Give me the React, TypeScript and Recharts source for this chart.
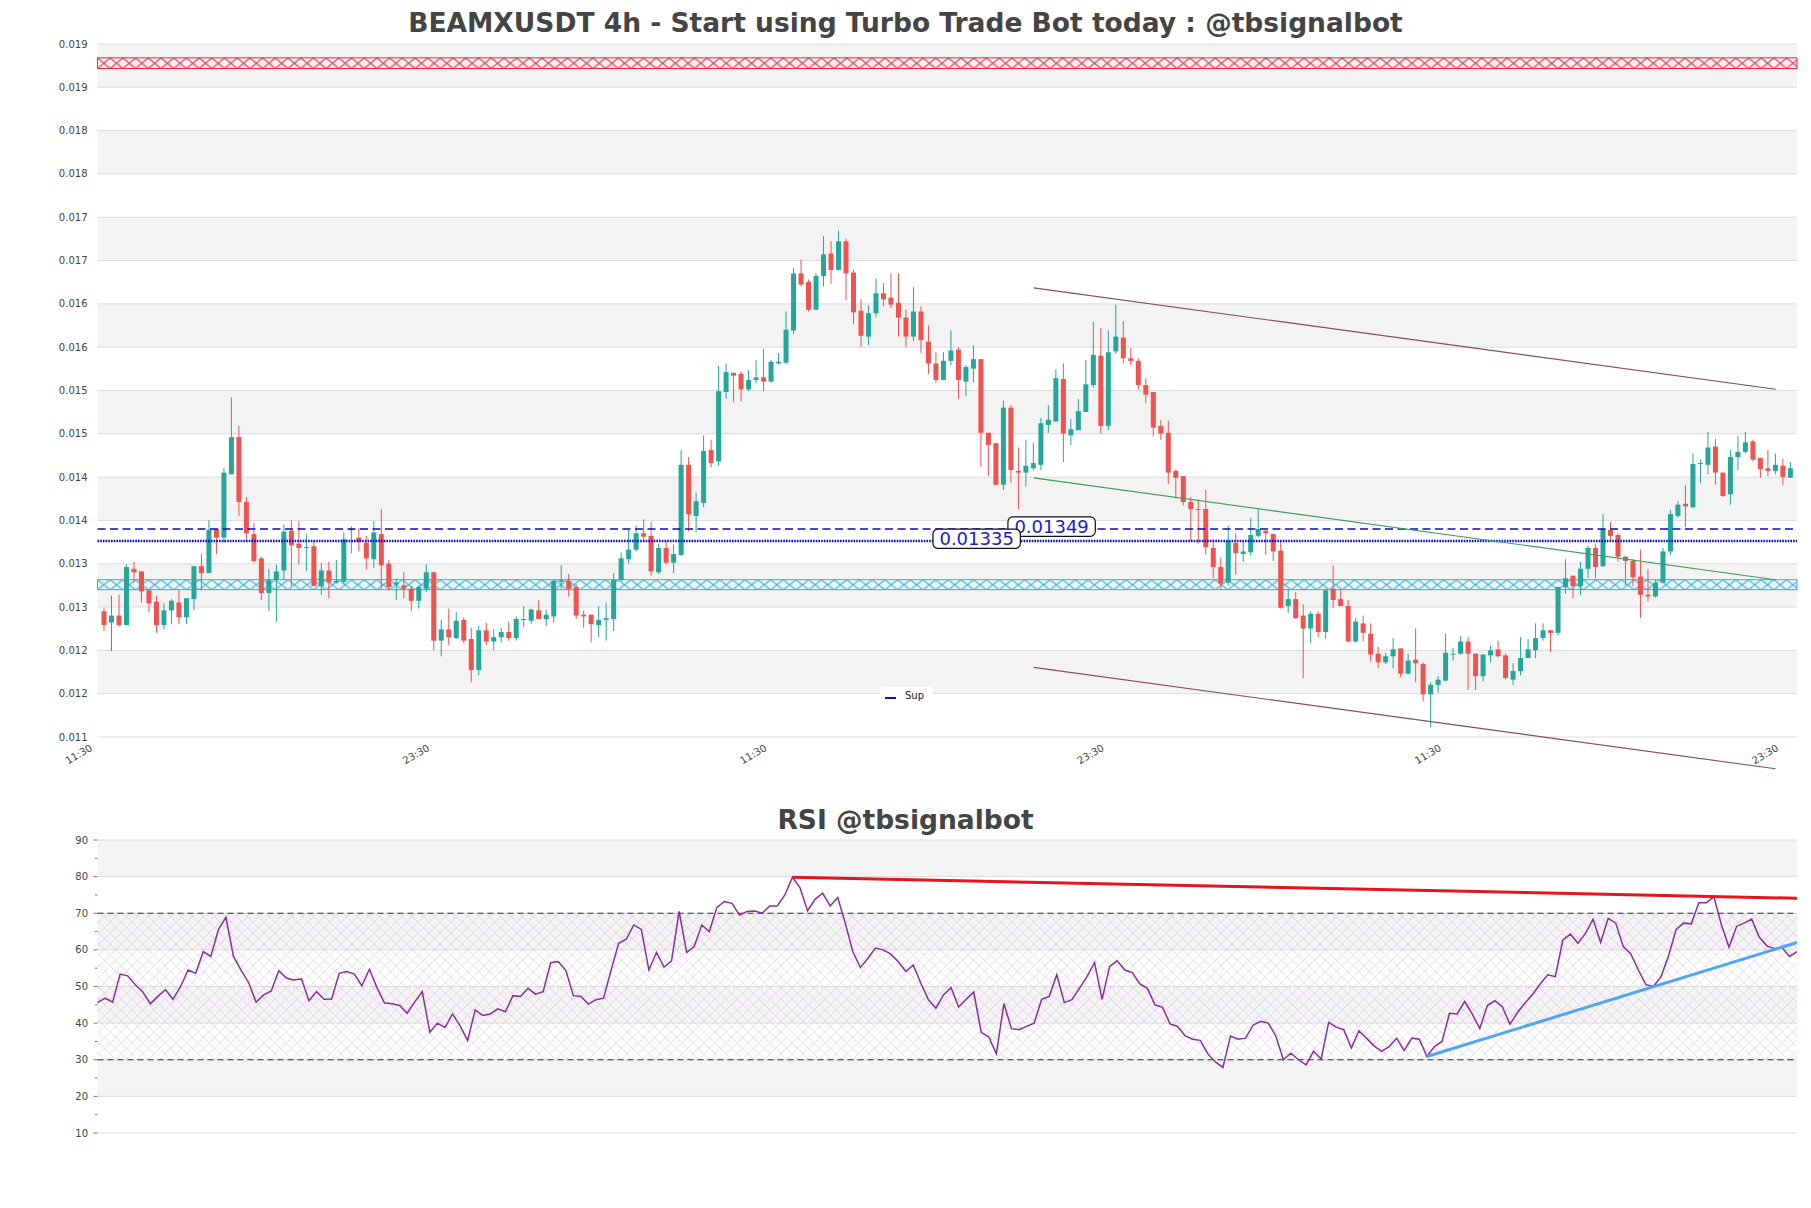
import React from 'react'
import {
  ComposedChart,
  LineChart,
  Line,
  Bar,
  XAxis,
  YAxis,
  CartesianGrid,
  ReferenceLine,
  ReferenceArea,
  ReferenceDot,
} from 'recharts'

// 4h candles
const opens = [
  0.01254, 0.01241, 0.01249, 0.01238, 0.01303, 0.013, 0.01278, 0.01265, 0.01238, 0.01255,
  0.01264, 0.01247, 0.01268, 0.01306, 0.01298, 0.01349, 0.01339, 0.01412, 0.01455, 0.0138,
  0.01343, 0.01315, 0.01275, 0.0129, 0.01301, 0.01347, 0.01332, 0.01327, 0.01329, 0.01283,
  0.01301, 0.01287, 0.01288, 0.01348, 0.01339, 0.01333, 0.01314, 0.01343, 0.01309, 0.01285,
  0.01284, 0.0128, 0.01266, 0.0128, 0.01299, 0.0122, 0.01233, 0.01223, 0.01244, 0.01222,
  0.01186, 0.01232, 0.01219, 0.01224, 0.0123, 0.01223, 0.01244, 0.01243, 0.01255, 0.01245,
  0.01248, 0.01288, 0.01289, 0.01282, 0.0125, 0.0125, 0.01238, 0.01244, 0.01245, 0.0129,
  0.01314, 0.01325, 0.01344, 0.01341, 0.01299, 0.01327, 0.0131, 0.01319, 0.01423, 0.01364,
  0.01379, 0.0144, 0.01427, 0.01507, 0.01529, 0.01528, 0.0151, 0.01521, 0.01524, 0.01519,
  0.0154, 0.01541, 0.01578, 0.01644, 0.01634, 0.01602, 0.01641, 0.01667, 0.01648, 0.01681,
  0.01645, 0.01601, 0.01571, 0.01598, 0.01621, 0.01616, 0.0161, 0.01593, 0.01571, 0.016,
  0.01565, 0.0154, 0.01521, 0.01543, 0.01556, 0.01519, 0.01534, 0.01545, 0.0146, 0.01448,
  0.014, 0.01489, 0.01416, 0.01414, 0.01419, 0.01423, 0.01469, 0.01473, 0.01522, 0.01457,
  0.01463, 0.01484, 0.01515, 0.01549, 0.01468, 0.01554, 0.0157, 0.01546, 0.01543, 0.01515,
  0.01507, 0.01468, 0.0146, 0.01416, 0.0141, 0.0138, 0.01372, 0.01372, 0.01327, 0.01305,
  0.01287, 0.01333, 0.0132, 0.01322, 0.01341, 0.01347, 0.01343, 0.01324, 0.0126, 0.01268,
  0.01249, 0.01234, 0.01251, 0.0123, 0.0128, 0.01268, 0.0126, 0.01219, 0.0124, 0.01228,
  0.01205, 0.01195, 0.01202, 0.01211, 0.01182, 0.01198, 0.01193, 0.01158, 0.01169, 0.01174,
  0.01204, 0.01205, 0.01219, 0.01205, 0.01179, 0.01203, 0.0121, 0.01203, 0.01175, 0.01185,
  0.012, 0.01209, 0.01223, 0.01232, 0.01229, 0.01282, 0.01295, 0.01283, 0.01303, 0.01327,
  0.01306, 0.01348, 0.01342, 0.01317, 0.01312, 0.01294, 0.01273, 0.01271, 0.01287, 0.01323,
  0.01364, 0.01378, 0.01374, 0.01424, 0.01423, 0.01444, 0.01414, 0.01389, 0.01432, 0.01438,
  0.0145, 0.01431, 0.01419, 0.01416, 0.01422, 0.01408,
]

const highs = [
  0.01258, 0.01272, 0.01273, 0.01308, 0.01311, 0.013, 0.01278, 0.01272, 0.01263, 0.01268,
  0.01279, 0.01269, 0.01306, 0.0132, 0.01359, 0.01349, 0.01419, 0.01501, 0.01468, 0.01386,
  0.01356, 0.01317, 0.01303, 0.01308, 0.01354, 0.01359, 0.01358, 0.01343, 0.01335, 0.0131,
  0.01311, 0.01313, 0.01345, 0.01352, 0.0135, 0.01341, 0.01358, 0.01372, 0.01313, 0.01292,
  0.01299, 0.01283, 0.01284, 0.01308, 0.01299, 0.01244, 0.01257, 0.01253, 0.01247, 0.01235,
  0.01237, 0.01241, 0.01233, 0.01235, 0.01242, 0.01248, 0.0126, 0.01257, 0.01267, 0.01256,
  0.01289, 0.01307, 0.01297, 0.01285, 0.01255, 0.0125, 0.0126, 0.01264, 0.01298, 0.01322,
  0.01348, 0.01353, 0.0136, 0.01357, 0.01332, 0.01335, 0.01331, 0.0144, 0.01432, 0.01391,
  0.01457, 0.01452, 0.01537, 0.0154, 0.0153, 0.01531, 0.01532, 0.01544, 0.01557, 0.01544,
  0.01552, 0.016, 0.0165, 0.0166, 0.01637, 0.01644, 0.01687, 0.01681, 0.01693, 0.01684,
  0.01648, 0.01614, 0.01607, 0.01638, 0.01633, 0.01644, 0.01644, 0.01602, 0.01628, 0.01606,
  0.01584, 0.01553, 0.01553, 0.01578, 0.01559, 0.01538, 0.01561, 0.01545, 0.0146, 0.01448,
  0.01497, 0.01492, 0.01443, 0.01452, 0.01448, 0.01477, 0.01492, 0.01533, 0.0154, 0.01476,
  0.01499, 0.01544, 0.01588, 0.01581, 0.01578, 0.01608, 0.01589, 0.01558, 0.01546, 0.01523,
  0.01507, 0.01475, 0.01474, 0.01418, 0.0141, 0.01386, 0.01383, 0.01394, 0.01337, 0.01316,
  0.01353, 0.01344, 0.01334, 0.01362, 0.01372, 0.01347, 0.01343, 0.01334, 0.0128, 0.01276,
  0.01262, 0.01254, 0.01254, 0.0128, 0.01307, 0.01279, 0.01267, 0.01246, 0.01249, 0.0124,
  0.01213, 0.01206, 0.01223, 0.01211, 0.01205, 0.01234, 0.01195, 0.01172, 0.01179, 0.01228,
  0.01212, 0.01225, 0.01224, 0.01205, 0.01204, 0.01214, 0.0122, 0.01205, 0.01194, 0.01224,
  0.01222, 0.0124, 0.0124, 0.01232, 0.01282, 0.01314, 0.01295, 0.01311, 0.0133, 0.01331,
  0.01366, 0.01357, 0.01344, 0.01318, 0.01314, 0.01325, 0.01303, 0.0129, 0.01327, 0.01371,
  0.01381, 0.014, 0.01436, 0.01429, 0.01461, 0.01453, 0.01414, 0.0144, 0.01456, 0.01461,
  0.01452, 0.01431, 0.0144, 0.01436, 0.0143, 0.01426,
]

const lows = [
  0.01231, 0.01208, 0.01236, 0.01238, 0.01287, 0.01264, 0.01253, 0.01229, 0.01233, 0.01239,
  0.01239, 0.01239, 0.01255, 0.01278, 0.01298, 0.0132, 0.01333, 0.01412, 0.01364, 0.01335,
  0.0131, 0.01267, 0.01254, 0.01242, 0.0129, 0.01283, 0.01308, 0.013, 0.01283, 0.01273,
  0.01269, 0.01286, 0.01286, 0.01321, 0.01323, 0.01302, 0.01304, 0.01279, 0.01278, 0.01267,
  0.01269, 0.01254, 0.01257, 0.01276, 0.01209, 0.01202, 0.01215, 0.01222, 0.01217, 0.01172,
  0.0118, 0.01215, 0.01209, 0.01218, 0.0122, 0.0122, 0.01236, 0.01239, 0.01245, 0.01237,
  0.01241, 0.0128, 0.01271, 0.01245, 0.01235, 0.01218, 0.01224, 0.0122, 0.01231, 0.01289,
  0.01309, 0.01323, 0.01335, 0.01295, 0.01297, 0.01308, 0.01298, 0.01318, 0.01346, 0.01345,
  0.01374, 0.0142, 0.01422, 0.01499, 0.01495, 0.01496, 0.01508, 0.01517, 0.01508, 0.01518,
  0.01539, 0.01539, 0.01574, 0.01629, 0.016, 0.01602, 0.01629, 0.01632, 0.01648, 0.01613,
  0.01585, 0.01559, 0.01561, 0.01593, 0.01606, 0.01604, 0.01571, 0.01559, 0.01566, 0.01552,
  0.01528, 0.01518, 0.01521, 0.01538, 0.01499, 0.01502, 0.01518, 0.01421, 0.0141, 0.01399,
  0.01394, 0.01402, 0.01372, 0.01398, 0.01417, 0.01417, 0.0146, 0.01473, 0.01426, 0.01446,
  0.01463, 0.01484, 0.01512, 0.01459, 0.01463, 0.01551, 0.0154, 0.01538, 0.0151, 0.01494,
  0.01456, 0.01452, 0.01401, 0.01384, 0.01376, 0.01335, 0.01332, 0.01319, 0.01292, 0.01279,
  0.01284, 0.01296, 0.01311, 0.01318, 0.01339, 0.01319, 0.01312, 0.01257, 0.01252, 0.01245,
  0.01177, 0.01217, 0.01224, 0.01222, 0.01258, 0.0126, 0.01218, 0.01218, 0.01219, 0.01196,
  0.01188, 0.01193, 0.01188, 0.01178, 0.01181, 0.01172, 0.0115, 0.0112, 0.0116, 0.01173,
  0.01197, 0.01204, 0.01163, 0.01163, 0.01173, 0.01195, 0.01201, 0.01175, 0.01169, 0.0118,
  0.012, 0.012, 0.0122, 0.01207, 0.01226, 0.01274, 0.01269, 0.01273, 0.01292, 0.01292,
  0.01305, 0.01334, 0.01311, 0.01284, 0.01283, 0.01246, 0.01265, 0.0127, 0.01287, 0.01319,
  0.01362, 0.01351, 0.01373, 0.01402, 0.01412, 0.014, 0.01386, 0.01377, 0.01417, 0.01436,
  0.01427, 0.01408, 0.0141, 0.01412, 0.014, 0.01408,
]

const closes = [
  0.01238, 0.01249, 0.01238, 0.01305, 0.01299, 0.01277, 0.01263, 0.01238, 0.01255, 0.01266,
  0.01247, 0.01269, 0.01306, 0.01298, 0.01348, 0.01339, 0.01414, 0.01455, 0.0138, 0.01344,
  0.01312, 0.01275, 0.0129, 0.013, 0.01346, 0.0133, 0.01327, 0.01328, 0.01283, 0.01301,
  0.01287, 0.01289, 0.01337, 0.01349, 0.01334, 0.01315, 0.01345, 0.01307, 0.01282, 0.01287,
  0.0128, 0.01266, 0.01282, 0.01299, 0.0122, 0.01233, 0.01224, 0.01243, 0.0122, 0.01186,
  0.01232, 0.01219, 0.01224, 0.0123, 0.01223, 0.01245, 0.01245, 0.01256, 0.01245, 0.0125,
  0.01289, 0.0129, 0.0128, 0.01249, 0.01248, 0.01239, 0.01244, 0.01246, 0.0129, 0.01315,
  0.01325, 0.01344, 0.0134, 0.013, 0.01327, 0.0131, 0.0132, 0.01423, 0.01366, 0.01381,
  0.01439, 0.01425, 0.01508, 0.0153, 0.01526, 0.0151, 0.01521, 0.01524, 0.01519, 0.01542,
  0.01542, 0.01579, 0.01644, 0.01631, 0.01602, 0.01641, 0.01666, 0.01648, 0.01681, 0.01644,
  0.01599, 0.01572, 0.01598, 0.01621, 0.01614, 0.01608, 0.01593, 0.01571, 0.016, 0.01567,
  0.0154, 0.01521, 0.01543, 0.01555, 0.01521, 0.01536, 0.01545, 0.0146, 0.01446, 0.014,
  0.01489, 0.01417, 0.01414, 0.01422, 0.01425, 0.01471, 0.01475, 0.01523, 0.01459, 0.01464,
  0.01485, 0.01516, 0.0155, 0.01468, 0.01553, 0.01571, 0.01546, 0.01543, 0.01515, 0.01504,
  0.01466, 0.01459, 0.01414, 0.01408, 0.0138, 0.01372, 0.01371, 0.01328, 0.01305, 0.01286,
  0.01335, 0.01321, 0.01323, 0.01342, 0.01349, 0.01344, 0.01323, 0.01258, 0.01268, 0.01246,
  0.01234, 0.01251, 0.0123, 0.01278, 0.01267, 0.0126, 0.01219, 0.01242, 0.01229, 0.01204,
  0.01195, 0.01202, 0.0121, 0.01182, 0.01197, 0.01194, 0.01158, 0.01169, 0.01175, 0.01206,
  0.01205, 0.01219, 0.01205, 0.01179, 0.01204, 0.01209, 0.01202, 0.01177, 0.01185, 0.012,
  0.0121, 0.01223, 0.01232, 0.01229, 0.01282, 0.01292, 0.01283, 0.01303, 0.01327, 0.01305,
  0.01349, 0.01341, 0.01317, 0.01312, 0.01293, 0.01273, 0.01271, 0.01287, 0.01323, 0.01366,
  0.01377, 0.01375, 0.01424, 0.01425, 0.01443, 0.01414, 0.01387, 0.01432, 0.01438, 0.01449,
  0.01429, 0.01418, 0.01416, 0.01423, 0.01409, 0.01419,
]

const rsiValues = [
  45.6, 46.8, 45.7, 53.4, 52.9, 50.5, 48.5, 45.3, 47.3, 49.1,
  46.5, 50.0, 54.5, 53.6, 59.5, 58.2, 65.5, 68.9, 58.2, 54.5,
  51.1, 45.7, 47.7, 48.8, 54.3, 52.3, 51.8, 52.1, 46.1, 48.6,
  46.5, 46.6, 53.6, 54.1, 53.4, 50.2, 54.7, 49.7, 45.5, 45.3,
  44.8, 42.7, 45.8, 48.6, 37.5, 40.0, 38.8, 42.5, 39.3, 35.2,
  43.6, 42.1, 42.5, 43.9, 43.1, 47.5, 47.3, 49.5, 47.9, 48.6,
  56.5, 56.8, 54.4, 47.5, 47.3, 45.2, 46.4, 46.8, 54.5, 61.8,
  62.9, 66.8, 65.6, 54.5, 59.3, 55.3, 57.0, 70.5, 59.3, 60.9,
  66.8, 65.0, 71.6, 73.2, 72.7, 69.5, 70.5, 70.6, 70.0, 72.0,
  72.0, 75.0, 79.8, 77.0, 70.7, 73.8, 75.5, 72.0, 74.3, 67.3,
  59.5, 55.2, 57.7, 60.5, 60.0, 58.9, 56.8, 54.1, 55.9, 50.9,
  46.4, 44.1, 47.7, 49.7, 44.4, 46.5, 48.5, 37.5, 36.2, 31.6,
  45.3, 38.5, 38.2, 39.1, 40.0, 46.5, 47.3, 53.2, 45.6, 46.4,
  49.5, 52.7, 56.5, 46.5, 55.5, 57.0, 54.5, 53.8, 50.7, 49.5,
  45.0, 44.3, 39.8, 39.1, 36.5, 35.6, 35.3, 31.6, 29.4, 27.9,
  36.5, 35.6, 35.9, 39.5, 40.5, 40.0, 36.5, 30.0, 31.8, 30.0,
  28.6, 32.3, 30.2, 40.2, 38.9, 38.2, 33.2, 37.9, 35.9, 33.8,
  32.3, 33.6, 35.9, 32.5, 35.9, 35.6, 30.9, 33.6, 35.0, 42.7,
  42.5, 45.9, 42.5, 38.5, 44.8, 46.1, 44.4, 39.7, 42.9, 45.5,
  47.9, 50.7, 53.2, 52.7, 62.7, 64.3, 61.8, 64.5, 68.4, 62.0,
  68.6, 67.3, 60.9, 58.9, 54.5, 50.5, 50.0, 52.7, 58.4, 65.6,
  67.3, 67.1, 72.9, 72.9, 74.5, 66.8, 60.7, 66.4, 67.3, 68.4,
  63.5, 61.1, 60.3, 60.7, 58.2, 59.5,
]

const yTicks = [
  0.011088, 0.011588, 0.012088, 0.012588, 0.013088, 0.013588, 0.014088, 0.014588, 0.015088,
  0.015588, 0.016088, 0.016588, 0.017088, 0.017588, 0.018088, 0.018588, 0.019088,
]
const xTicks = [-1.5, 43.5, 88.5, 133.5, 178.5, 223.5]
const xTickLabels = ['11:30', '23:30', '11:30', '23:30', '11:30', '23:30']
const rsiTicks = [10, 20, 30, 40, 50, 60, 70, 80, 90]

// levels and zones
const resistanceZone = [0.018805, 0.018928]
const supportZone = [0.012789, 0.012904]
const dashedLevel = 0.01349
const supLevel = 0.01335
const channelTop = [{ x: 124, y: 0.016273 }, { x: 223, y: 0.015102 }]
const channelMid = [{ x: 124, y: 0.014079 }, { x: 223, y: 0.012904 }]
const channelLow = [{ x: 124, y: 0.011892 }, { x: 223, y: 0.010721 }]
const rsiResistance = [{ x: 92, y: 79.8 }, { x: 225, y: 74.1 }]
const rsiSupport = [{ x: 176, y: 30.9 }, { x: 225, y: 62.0 }]

const candles = opens.map((open, i) => ({ i, open, high: highs[i], low: lows[i], close: closes[i] }))
const rsiData = rsiValues.map((rsi, j) => ({ j, rsi }))

const FONT = 'DejaVu Sans, sans-serif'
const UP = '#26a69a'
const DOWN = '#ef5350'

const Candle = (props: any) => {
  const { x, y, width, height, payload } = props
  if (x == null || y == null) return null
  const { open, close, high, low } = payload
  const top = Math.min(y, y + height)
  const h = Math.abs(height)
  const k = high === low ? 0 : h / (high - low)
  const yOf = (v: number) => top + (high - v) * k
  const bodyTop = yOf(Math.max(open, close))
  const bodyH = Math.max(1, yOf(Math.min(open, close)) - bodyTop)
  const color = close >= open ? UP : DOWN
  const cx = x + width / 2
  return (
    <g>
      <line x1={cx} x2={cx} y1={top} y2={top + h} stroke={color} strokeWidth={1} />
      <rect x={x} y={bodyTop} width={width} height={bodyH} fill={color} />
    </g>
  )
}

const PriceTag = ({ cx, cy, text }: any) => {
  if (cx == null) return null
  const c = cy - 2.3
  return (
    <g>
      <rect x={cx - 43.7} y={c - 9.7} width={87.4} height={19.4} rx={5} fill="#fff" stroke="#111" strokeWidth={1.2} />
      <text x={cx} y={c} dy="0.36em" textAnchor="middle" fontSize={18} fill="#1a1ad0" fontFamily={FONT}>
        {text}
      </text>
    </g>
  )
}

const XTick = (props: any) => {
  const { x, y, payload } = props
  const idx = xTicks.indexOf(payload.value)
  const ty = y + 13
  return (
    <text x={x} y={ty} transform={`rotate(-30 ${x} ${ty})`} textAnchor="end" fontSize={10} fill="#444" fontFamily={FONT}>
      {xTickLabels[idx] ?? ''}
    </text>
  )
}

const RsiTick = (props: any) => {
  const { y, payload } = props
  return (
    <g>
      <line x1={93.5} x2={97.5} y1={y} y2={y} stroke="#555" strokeWidth={0.8} />
      {payload.value > 10 && <line x1={95} x2={97.5} y1={y + 18.3} y2={y + 18.3} stroke="#555" strokeWidth={0.8} />}
      <text x={88} y={y} dy="0.35em" textAnchor="end" fontSize={10} fill="#444" fontFamily={FONT}>
        {payload.value}
      </text>
    </g>
  )
}

const titleStyle: React.CSSProperties = {
  position: 'absolute',
  left: 0,
  width: 1811,
  textAlign: 'center',
  fontFamily: FONT,
  fontWeight: 'bold',
  fontSize: 26.5,
  lineHeight: '30px',
  color: '#444',
}

export default function App() {
  return (
    <div style={{ position: 'absolute', left: 0, top: 0, width: 1811, height: 1208, background: '#fff', fontFamily: FONT }}>
      <div style={{ ...titleStyle, top: 8 }}>BEAMXUSDT 4h - Start using Turbo Trade Bot today : @tbsignalbot</div>

      <div style={{ position: 'absolute', left: 0, top: 0 }}>
        <ComposedChart width={1811} height={800} data={candles} margin={{ top: 44, right: 14, bottom: 0, left: 0 }}>
          <defs>
            <pattern id="hatchRed" patternUnits="objectBoundingBox" width={12.7 / 1699.5} height={1}>
              <path d="M0 0 L12.7 10.7 M12.7 0 L0 10.7" stroke="#e8283c" strokeWidth={1} fill="none" />
            </pattern>
            <pattern id="hatchCyan" patternUnits="objectBoundingBox" width={12.7 / 1699.5} height={1}>
              <path d="M0 0 L12.7 10.2 M12.7 0 L0 10.2" stroke="#22b4d8" strokeWidth={1} fill="none" />
            </pattern>
          </defs>
          <CartesianGrid vertical={false} stroke="#dcdcdc" horizontalFill={['#f3f3f3', '#ffffff']} />
          <XAxis
            dataKey="i"
            type="number"
            domain={[-0.9, 225.85]}
            ticks={xTicks}
            interval={0}
            tick={<XTick />}
            tickLine={false}
            tickSize={0}
            tickMargin={0}
            axisLine={false}
            height={63}
            allowDataOverflow
          />
          <YAxis
            type="number"
            domain={[yTicks[0], yTicks[yTicks.length - 1]]}
            ticks={yTicks}
            interval={0}
            tickFormatter={(v: number) => v.toFixed(3)}
            tick={{ fontSize: 10, fill: '#444', fontFamily: FONT }}
            tickLine={false}
            tickMargin={4}
            axisLine={false}
            width={97.5}
            allowDataOverflow
          />
          <ReferenceArea y1={resistanceZone[0]} y2={resistanceZone[1]} fill="url(#hatchRed)" fillOpacity={1} stroke="#e8283c" strokeWidth={1} />
          <ReferenceArea y1={supportZone[0]} y2={supportZone[1]} fill="url(#hatchCyan)" fillOpacity={1} stroke="#22b4d8" strokeWidth={1} />
          <ReferenceArea fill="none" stroke="#d2d2d2" strokeWidth={1} />
          <Bar dataKey={(d: any) => [d.low, d.high]} barSize={5} shape={<Candle />} isAnimationActive={false} />
          <ReferenceLine y={dashedLevel} stroke="#0c0cb0" strokeWidth={1.4} strokeDasharray="8 4.5" />
          <ReferenceLine y={supLevel} stroke="#0c0cd0" strokeWidth={2.6} strokeDasharray="1.6 1.1" />
          <ReferenceLine segment={channelTop} stroke="#8c4b5c" strokeWidth={1.1} ifOverflow="visible" />
          <ReferenceLine segment={channelLow} stroke="#8c4b5c" strokeWidth={1.1} ifOverflow="visible" />
          <ReferenceLine segment={channelMid} stroke="#3c9f5a" strokeWidth={1.1} ifOverflow="visible" />
          <ReferenceDot x={126.4} y={dashedLevel} r={0} shape={(p: any) => <PriceTag {...p} text="0.01349" />} />
          <ReferenceDot x={116.4} y={supLevel} r={0} shape={(p: any) => <PriceTag {...p} text="0.01335" />} />
        </ComposedChart>
      </div>

      <div
        style={{
          position: 'absolute',
          left: 880,
          top: 687,
          width: 53,
          height: 18,
          background: 'rgba(255,255,255,0.85)',
          borderRadius: 3,
          fontSize: 10,
          color: '#222',
        }}
      >
        <div style={{ position: 'absolute', left: 5, top: 9.5, width: 11, height: 2, background: '#1010c8' }} />
        <div style={{ position: 'absolute', left: 25, top: 3, lineHeight: '12px' }}>Sup</div>
      </div>

      <div style={{ ...titleStyle, top: 805 }}>RSI @tbsignalbot</div>

      <div style={{ position: 'absolute', left: 0, top: 790 }}>
        <LineChart width={1811} height={418} data={rsiData} margin={{ top: 50, right: 14, bottom: 75, left: 0 }}>
          <defs>
            <pattern id="rsiHatch" patternUnits="userSpaceOnUse" width={11} height={11}>
              <path d="M0 0 L11 11 M11 0 L0 11" stroke="#c9a6d6" strokeWidth={0.6} fill="none" opacity={0.6} />
            </pattern>
          </defs>
          <CartesianGrid vertical={false} stroke="#dcdcdc" horizontalFill={['#f3f3f3', '#ffffff']} />
          <XAxis dataKey="j" type="number" domain={[0, 225]} hide />
          <YAxis
            type="number"
            domain={[10, 90]}
            ticks={rsiTicks}
            interval={0}
            tick={<RsiTick />}
            tickLine={false}
            axisLine={false}
            width={97.5}
          />
          <ReferenceArea y1={30} y2={70} fill="url(#rsiHatch)" fillOpacity={1} stroke="none" />
          <ReferenceArea fill="none" stroke="#d2d2d2" strokeWidth={1} />
          <ReferenceLine y={70} stroke="#333" strokeWidth={1.1} strokeDasharray="6 4" />
          <ReferenceLine y={30} stroke="#333" strokeWidth={1.1} strokeDasharray="6 4" />
          <Line dataKey="rsi" type="linear" stroke="#8b2ca0" strokeWidth={1.5} dot={false} isAnimationActive={false} />
          <ReferenceLine segment={rsiResistance} stroke="#e8141b" strokeWidth={3} />
          <ReferenceLine segment={rsiSupport} stroke="#4ea5f2" strokeWidth={3} />
        </LineChart>
      </div>
    </div>
  )
}
